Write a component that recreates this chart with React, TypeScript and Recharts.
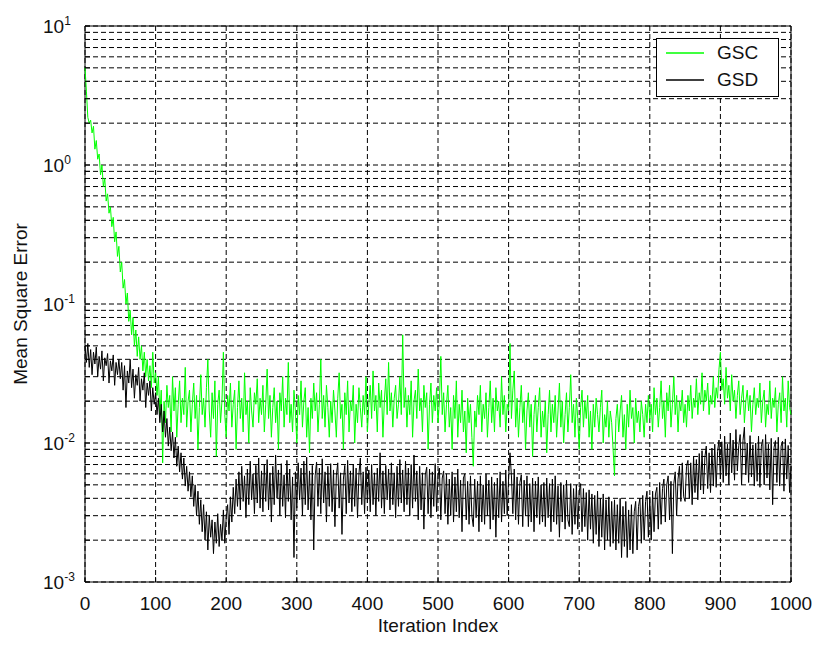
import React from 'react';
import {
  LineChart,
  Line,
  XAxis,
  YAxis,
  CartesianGrid,
  Legend,
  ReferenceArea
} from 'recharts';

const FONT = '"Liberation Sans", Arial, Helvetica, sans-serif';

// iteration index, sampled every 2 iterations
const iterations = Array.from({ length: 501 }, (_, i) => i * 2);

// GSC mean square error (green), one row = 50 iterations
const gscValues = [
  5.0, 3.4, 2.2, 2.0, 2.1, 1.7, 1.9, 1.3, 1.5, 1.1, 1.2, 0.85, 1.0, 0.7, 0.8, 0.55, 0.62, 0.45, 0.5, 0.36, 0.42, 0.28, 0.33, 0.22, 0.26,
  0.17, 0.2, 0.13, 0.15, 0.1, 0.12, 0.075, 0.09, 0.06, 0.08, 0.05, 0.065, 0.042, 0.058, 0.04, 0.05, 0.033, 0.045, 0.03, 0.04, 0.028, 0.036, 0.025, 0.045, 0.027,
  0.032, 0.022, 0.03, 0.016, 0.024, 0.0072, 0.02, 0.014, 0.026, 0.018, 0.022, 0.012, 0.03, 0.017, 0.025, 0.011, 0.019, 0.028, 0.014, 0.021, 0.016, 0.035, 0.013, 0.02, 0.024,
  0.012, 0.019, 0.027, 0.015, 0.022, 0.009, 0.018, 0.031, 0.016, 0.021, 0.013, 0.025, 0.04, 0.017, 0.011, 0.023, 0.015, 0.028, 0.008, 0.019, 0.024, 0.014, 0.02, 0.045, 0.016,
  0.011, 0.022, 0.017, 0.027, 0.013, 0.019, 0.024, 0.009, 0.018, 0.028, 0.015, 0.021, 0.012, 0.032, 0.016, 0.02, 0.01, 0.025, 0.017, 0.013, 0.023, 0.019, 0.029, 0.014, 0.021,
  0.016, 0.026, 0.012, 0.019, 0.034, 0.015, 0.022, 0.011, 0.018, 0.025, 0.014, 0.02, 0.009, 0.023, 0.017, 0.03, 0.013, 0.021, 0.016, 0.038, 0.014, 0.019, 0.012, 0.024, 0.017,
  0.01, 0.022, 0.016, 0.028, 0.013, 0.02, 0.025, 0.011, 0.018, 0.0085, 0.021, 0.015, 0.027, 0.017, 0.023, 0.012, 0.019, 0.04, 0.015, 0.022, 0.013, 0.026, 0.018, 0.011, 0.02,
  0.014, 0.024, 0.017, 0.011, 0.021, 0.032, 0.015, 0.019, 0.009, 0.023, 0.016, 0.028, 0.012, 0.02, 0.017, 0.026, 0.01, 0.019, 0.014, 0.025, 0.018, 0.013, 0.022, 0.016, 0.03,
  0.012, 0.019, 0.026, 0.015, 0.033, 0.017, 0.022, 0.012, 0.027, 0.018, 0.024, 0.011, 0.02, 0.029, 0.016, 0.038, 0.017, 0.023, 0.013, 0.021, 0.026, 0.015, 0.019, 0.03, 0.016,
  0.06, 0.018, 0.025, 0.013, 0.022, 0.016, 0.028, 0.011, 0.02, 0.024, 0.015, 0.034, 0.017, 0.021, 0.012, 0.026, 0.018, 0.023, 0.009, 0.019, 0.027, 0.014, 0.022, 0.017, 0.025,
  0.014, 0.02, 0.042, 0.016, 0.023, 0.012, 0.019, 0.026, 0.013, 0.018, 0.009, 0.022, 0.015, 0.028, 0.011, 0.019, 0.014, 0.024, 0.012, 0.017, 0.0085, 0.021, 0.014, 0.019, 0.011,
  0.0068, 0.017, 0.013, 0.022, 0.016, 0.026, 0.012, 0.019, 0.015, 0.023, 0.011, 0.018, 0.028, 0.014, 0.021, 0.012, 0.025, 0.017, 0.02, 0.013, 0.03, 0.016, 0.022, 0.012, 0.019,
  0.017, 0.052, 0.015, 0.024, 0.033, 0.013, 0.021, 0.011, 0.018, 0.026, 0.014, 0.02, 0.009, 0.017, 0.023, 0.013, 0.019, 0.008, 0.016, 0.022, 0.012, 0.018, 0.025, 0.011, 0.017,
  0.013, 0.02, 0.0085, 0.016, 0.024, 0.012, 0.019, 0.014, 0.022, 0.011, 0.017, 0.027, 0.013, 0.02, 0.01, 0.016, 0.023, 0.012, 0.018, 0.031, 0.014, 0.019, 0.011, 0.021, 0.015,
  0.009, 0.018, 0.024, 0.013, 0.02, 0.015, 0.022, 0.011, 0.017, 0.009, 0.019, 0.013, 0.021, 0.016, 0.012, 0.018, 0.024, 0.01, 0.016, 0.013, 0.02, 0.011, 0.017, 0.014, 0.009,
  0.0058, 0.015, 0.019, 0.012, 0.017, 0.022, 0.011, 0.016, 0.009, 0.019, 0.013, 0.024, 0.015, 0.018, 0.01, 0.021, 0.014, 0.017, 0.012, 0.02, 0.016, 0.011, 0.019, 0.014, 0.022,
  0.015, 0.019, 0.012, 0.025, 0.016, 0.021, 0.013, 0.018, 0.028, 0.015, 0.02, 0.011, 0.023, 0.017, 0.026, 0.013, 0.019, 0.03, 0.016, 0.022, 0.012, 0.02, 0.017, 0.024, 0.014,
  0.019, 0.013, 0.022, 0.017, 0.026, 0.015, 0.021, 0.018, 0.029, 0.016, 0.023, 0.019, 0.032, 0.017, 0.024, 0.02, 0.027, 0.016, 0.022, 0.019, 0.03, 0.018, 0.025, 0.021, 0.034,
  0.045, 0.024, 0.029, 0.019, 0.035, 0.021, 0.026, 0.017, 0.031, 0.02, 0.024, 0.015, 0.022, 0.028, 0.016, 0.021, 0.026, 0.014, 0.02, 0.024, 0.017, 0.022, 0.012, 0.019, 0.025,
  0.016, 0.021, 0.018, 0.027, 0.014, 0.02, 0.024, 0.013, 0.019, 0.016, 0.028, 0.015, 0.021, 0.018, 0.025, 0.012, 0.019, 0.023, 0.014, 0.03, 0.017, 0.021, 0.013, 0.028, 0.018,
  0.016
];

// GSD mean square error (black), one row = 50 iterations
const gsdValues = [
  0.05, 0.038, 0.052, 0.035, 0.047, 0.031, 0.045, 0.037, 0.049, 0.03, 0.042, 0.034, 0.046, 0.028, 0.041, 0.036, 0.044, 0.027, 0.039, 0.033, 0.043, 0.026, 0.038, 0.031, 0.04,
  0.029, 0.038, 0.024, 0.036, 0.018, 0.033, 0.027, 0.04, 0.025, 0.034, 0.021, 0.031, 0.026, 0.035, 0.02, 0.029, 0.024, 0.032, 0.018, 0.027, 0.022, 0.028, 0.017, 0.025, 0.019,
  0.023, 0.016, 0.021, 0.014, 0.019, 0.012, 0.017, 0.011, 0.015, 0.0095, 0.013, 0.0088, 0.012, 0.0078, 0.011, 0.0068, 0.0095, 0.0062, 0.0085, 0.0055, 0.0078, 0.0049, 0.0068, 0.0045, 0.0062,
  0.0041, 0.0058, 0.0035, 0.005, 0.003, 0.0045, 0.0026, 0.0039, 0.0023, 0.0036, 0.002, 0.0032, 0.0017, 0.003, 0.0021, 0.0028, 0.0016, 0.0027, 0.0019, 0.0031, 0.0018, 0.0026, 0.002, 0.0033, 0.0019,
  0.0029, 0.0036, 0.0022, 0.0041, 0.0027, 0.0048, 0.0031, 0.0055, 0.0035, 0.0062, 0.0033, 0.0068, 0.0038, 0.0058, 0.0029, 0.0065, 0.0036, 0.0074, 0.0039, 0.006, 0.0031, 0.0069, 0.0037, 0.0078, 0.0034,
  0.0063, 0.0032, 0.007, 0.0038, 0.0076, 0.0033, 0.0061, 0.0027, 0.0068, 0.0036, 0.0082, 0.004, 0.0064, 0.003, 0.0071, 0.0035, 0.0059, 0.0029, 0.0075, 0.0038, 0.0065, 0.0028, 0.0057, 0.0015, 0.0062,
  0.0034, 0.0072, 0.0039, 0.0066, 0.003, 0.0074, 0.0036, 0.0079, 0.0033, 0.0063, 0.0028, 0.0069, 0.0017, 0.0058, 0.0073, 0.0035, 0.0066, 0.0031, 0.0077, 0.0037, 0.0062, 0.0027, 0.0068, 0.0035, 0.0071,
  0.0032, 0.0064, 0.0025, 0.0058, 0.0072, 0.0034, 0.0061, 0.0022, 0.0055, 0.0069, 0.0031, 0.0075, 0.0037, 0.0063, 0.0032, 0.007, 0.0035, 0.0066, 0.0029, 0.006, 0.0078, 0.0036, 0.0062, 0.0031, 0.0067,
  0.0037, 0.0064, 0.0032, 0.007, 0.0036, 0.0061, 0.003, 0.0066, 0.0038, 0.0085, 0.0034, 0.0063, 0.0031, 0.0069, 0.0039, 0.0065, 0.0033, 0.0072, 0.0036, 0.0061, 0.0029, 0.0068, 0.0035, 0.0076, 0.0037,
  0.0064, 0.0032, 0.0074, 0.0036, 0.0066, 0.003, 0.007, 0.0034, 0.0082, 0.0038, 0.0063, 0.0028, 0.0068, 0.0033, 0.0061, 0.0024, 0.0059, 0.0067, 0.0031, 0.0065, 0.0029, 0.0062, 0.0035, 0.0071, 0.0032,
  0.0058, 0.0066, 0.0028, 0.0056, 0.0063, 0.0031, 0.006, 0.0026, 0.0055, 0.003, 0.0062, 0.0027, 0.0057, 0.0032, 0.0065, 0.0029, 0.0054, 0.0023, 0.0056, 0.006, 0.0028, 0.0053, 0.0026, 0.0058, 0.003,
  0.0025, 0.0055, 0.0029, 0.0053, 0.0023, 0.0058, 0.0027, 0.005, 0.0026, 0.006, 0.003, 0.0054, 0.0024, 0.0057, 0.0028, 0.0052, 0.0021, 0.0056, 0.0029, 0.0062, 0.0027, 0.0053, 0.0031, 0.0064, 0.003,
  0.0056, 0.0085, 0.0058, 0.0031, 0.0065, 0.0028, 0.0057, 0.0026, 0.0052, 0.0059, 0.0025, 0.0054, 0.003, 0.0058, 0.0025, 0.0051, 0.0027, 0.0056, 0.0023, 0.0053, 0.0029, 0.0057, 0.0026, 0.005, 0.0027,
  0.0052, 0.0025, 0.0056, 0.0029, 0.0051, 0.0023, 0.0055, 0.0027, 0.0058, 0.0026, 0.0049, 0.0021, 0.0052, 0.0027, 0.005, 0.0024, 0.0054, 0.0028, 0.0025, 0.0051, 0.0022, 0.0047, 0.0026, 0.005, 0.0024,
  0.0045, 0.0051, 0.0023, 0.0047, 0.0025, 0.0044, 0.002, 0.0046, 0.0024, 0.0043, 0.0019, 0.0042, 0.0022, 0.0045, 0.0018, 0.004, 0.0021, 0.0043, 0.0017, 0.0039, 0.002, 0.0041, 0.0018, 0.0038, 0.0019,
  0.0039, 0.0017, 0.0036, 0.0019, 0.004, 0.0015, 0.0035, 0.0018, 0.0038, 0.0015, 0.0033, 0.0017, 0.0036, 0.0016, 0.0032, 0.0038, 0.0017, 0.0035, 0.004, 0.0019, 0.0042, 0.002, 0.0038, 0.0045, 0.0021,
  0.0041, 0.002, 0.0045, 0.0023, 0.0043, 0.0048, 0.0024, 0.0052, 0.0026, 0.0047, 0.0055, 0.0027, 0.005, 0.0058, 0.0028, 0.0053, 0.0016, 0.0051, 0.0062, 0.003, 0.0055, 0.0068, 0.0038, 0.0072, 0.0041,
  0.0038, 0.0068, 0.0075, 0.004, 0.0072, 0.0036, 0.008, 0.0044, 0.0076, 0.0039, 0.0084, 0.0046, 0.0088, 0.0043, 0.0079, 0.0095, 0.0047, 0.0085, 0.0044, 0.0092, 0.0049, 0.0098, 0.0048, 0.0087, 0.0105,
  0.0055, 0.0102, 0.0052, 0.0112, 0.0058, 0.0098, 0.005, 0.0118, 0.0061, 0.0105, 0.0054, 0.0125, 0.0063, 0.0096, 0.0115, 0.005, 0.0104, 0.013, 0.0059, 0.01, 0.0052, 0.0113, 0.0057, 0.0097, 0.0049,
  0.01, 0.0053, 0.0112, 0.0048, 0.0095, 0.0106, 0.005, 0.0115, 0.0056, 0.0098, 0.0046, 0.0108, 0.0036, 0.0093, 0.0104, 0.0052, 0.011, 0.0049, 0.0095, 0.0103, 0.0045, 0.0107, 0.0055, 0.0096, 0.0044,
  0.0068
];

const xTicks = [0, 100, 200, 300, 400, 500, 600, 700, 800, 900, 1000];
const yDecades = [0.001, 0.01, 0.1, 1, 10];
const yMultipliers = [1, 2, 3, 4, 5, 6, 7, 8, 9];

// log grid: every 1..9 step inside each decade, plus the top decade
const yGridValues = yDecades
  .slice(0, -1)
  .flatMap(d => yMultipliers.map(m => d * m))
  .concat([yDecades[yDecades.length - 1]]);

const data = iterations.map((it, i) => ({
  it,
  gsc: gscValues[i],
  gsd: gsdValues[i]
}));

function YTick(props: any) {
  const { x, y, payload } = props;
  const lg = Math.log10(payload.value);
  const exp = Math.round(lg);
  const isDecade = Math.abs(lg - exp) < 1e-6;
  return (
    <g>
      <line x1={x} x2={x + 5} y1={y} y2={y} stroke="#000" />
      {isDecade && (
        <text x={x - 42} y={y + 7} fontSize={19} fontFamily={FONT} fill="#111">
          10
          <tspan dy={-8} fontSize={12}>
            {exp}
          </tspan>
        </text>
      )}
    </g>
  );
}

function XTick(props: any) {
  const { x, y, payload } = props;
  return (
    <g>
      <line x1={x} x2={x} y1={y} y2={y - 5} stroke="#000" />
      <text x={x} y={y + 28} textAnchor="middle" fontSize={19} fontFamily={FONT} fill="#111">
        {payload.value}
      </text>
    </g>
  );
}

function YLabel(props: any) {
  const { viewBox } = props;
  const cx = viewBox.x + 27;
  const cy = viewBox.y + viewBox.height / 2;
  return (
    <text
      x={cx}
      y={cy}
      transform={`rotate(-90 ${cx} ${cy})`}
      textAnchor="middle"
      fontSize={19}
      fontFamily={FONT}
      fill="#111"
    >
      Mean Square Error
    </text>
  );
}

function XLabel(props: any) {
  const { viewBox } = props;
  return (
    <text
      x={viewBox.x + viewBox.width / 2}
      y={viewBox.y + 50}
      textAnchor="middle"
      fontSize={19}
      fontFamily={FONT}
      fill="#111"
    >
      Iteration Index
    </text>
  );
}

function LegendBox(props: any) {
  const items = props.payload || [];
  return (
    <div
      style={{
        width: 123,
        height: 59,
        boxSizing: 'border-box',
        border: '1px solid #000',
        background: '#fff',
        fontFamily: FONT,
        fontSize: 19,
        color: '#111',
        position: 'relative'
      }}
    >
      {items.map((entry: any, i: number) => (
        <div
          key={entry.value}
          style={{ position: 'absolute', left: 9, top: 3 + i * 27, height: 22, display: 'flex', alignItems: 'center' }}
        >
          <svg width={38} height={4} style={{ display: 'block' }}>
            <line x1={0} x2={38} y1={2} y2={2} stroke={entry.color} strokeWidth={1.5} />
          </svg>
          <span style={{ marginLeft: 13 }}>{entry.value}</span>
        </div>
      ))}
    </div>
  );
}

export default function App() {
  return (
    <div style={{ position: 'absolute', left: 0, top: 0, width: 815, height: 645, background: '#fff' }}>
      <LineChart
        width={815}
        height={645}
        data={data}
        margin={{ top: 26, right: 24, bottom: 0, left: 0 }}
      >
        <CartesianGrid stroke="#000" strokeDasharray="5 3" />
        <XAxis
          dataKey="it"
          type="number"
          domain={[0, 1000]}
          ticks={xTicks}
          interval={0}
          height={63}
          tickSize={0}
          tickMargin={0}
          axisLine={false}
          tickLine={false}
          tick={<XTick />}
          label={<XLabel />}
        />
        <YAxis
          type="number"
          scale="log"
          domain={[0.001, 10]}
          allowDataOverflow
          ticks={yGridValues}
          interval={0}
          width={85}
          tickSize={0}
          tickMargin={0}
          axisLine={false}
          tickLine={false}
          tick={<YTick />}
          label={<YLabel />}
        />
        <Legend
          layout="horizontal"
          verticalAlign="middle"
          align="center"
          wrapperStyle={{ top: 38, right: 36, width: 123, height: 59 }}
          content={<LegendBox />}
        />
        <Line
          type="linear"
          dataKey="gsc"
          name="GSC"
          stroke="#00ff00"
          strokeWidth={1}
          dot={false}
          isAnimationActive={false}
        />
        <Line
          type="linear"
          dataKey="gsd"
          name="GSD"
          stroke="#000000"
          strokeWidth={1}
          dot={false}
          isAnimationActive={false}
        />
        <ReferenceArea
          x1={0}
          x2={1000}
          y1={0.001}
          y2={10}
          fill="none"
          stroke="#000"
          strokeWidth={1}
          ifOverflow="visible"
        />
      </LineChart>
    </div>
  );
}
